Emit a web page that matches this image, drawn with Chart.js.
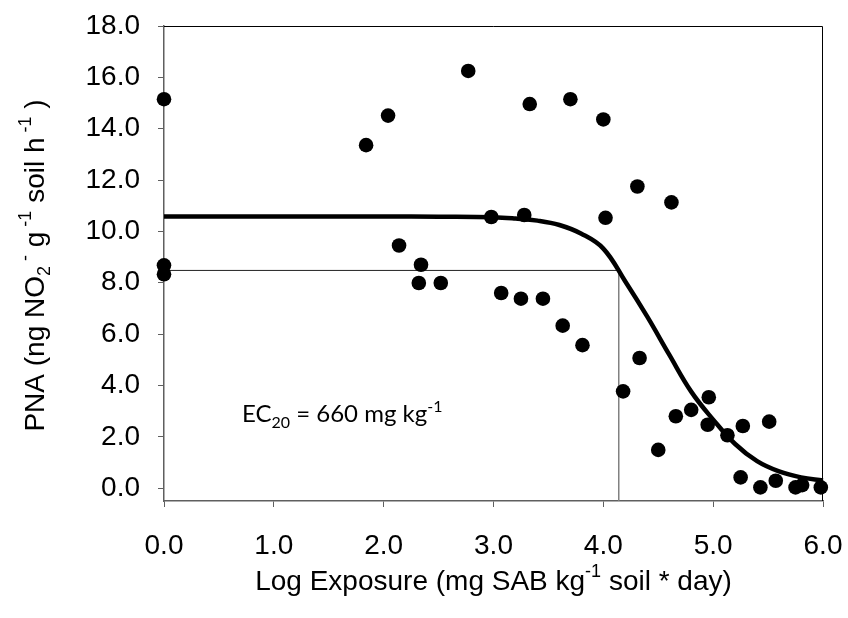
<!DOCTYPE html>
<html>
<head>
<meta charset="utf-8">
<script src="https://cdn.jsdelivr.net/npm/chart.js@4.4.1/dist/chart.umd.min.js"></script>
<style>
  html, body { margin: 0; padding: 0; background: #fff; }
  #wrap { width: 848px; height: 618px; position: relative; }
</style>
</head>
<body>
<div id="wrap"><canvas id="pnaChart"></canvas></div>
<script>
const exposure = [0.0, 0.0, 0.0, 1.84, 2.04, 2.14, 2.34, 2.32, 2.52, 2.77,
  2.98, 3.07, 3.25, 3.28, 3.33, 3.45, 3.63, 3.70, 3.81, 4.00,
  4.02, 4.18, 4.31, 4.33, 4.50, 4.62, 4.66, 4.80, 4.96, 4.95,
  5.13, 5.27, 5.51, 5.25, 5.43, 5.57, 5.75, 5.81, 5.98];
const pna = [15.15, 8.68, 8.33, 13.36, 14.51, 9.45, 8.70, 7.99, 7.99, 16.25,
  10.56, 7.60, 7.38, 10.64, 14.96, 7.38, 6.33, 15.15, 5.57, 14.36,
  10.53, 3.77, 11.75, 5.07, 1.49, 11.13, 2.80, 3.05, 3.54, 2.47,
  2.06, 2.42, 2.59, 0.42, 0.03, 0.29, 0.03, 0.12, 0.03];

// Fitted dose-response curve
const curveExposure = [0.0, 0.5, 1.0, 1.5, 2.0, 2.5, 3.0, 3.2, 3.4, 3.6,
  3.8, 4.0, 4.2, 4.4, 4.6, 4.8, 5.0, 5.2, 5.4, 5.6, 5.8, 6.0];
const curvePna = [10.58, 10.58, 10.58, 10.58, 10.58, 10.57, 10.55, 10.5, 10.42, 10.25,
  9.91, 9.33, 8.05, 6.68, 5.2, 3.76, 2.67, 1.72, 1.05, 0.65, 0.42, 0.3];

// EC20 guide lines
const ec20Exposure = 4.14;
const ec20Pna = 8.48;

const xTicks = [0, 1, 2, 3, 4, 5, 6];
const yTicks = [0, 2, 4, 6, 8, 10, 12, 14, 16, 18];
const yMin = -0.5;

const AXIS_FONT = "'Liberation Sans', Arial, sans-serif";
const NOTE_FONT = "Lato, 'Open Sans', sans-serif";
const axisGray = "#5f5f5f";

// draw text with super/subscripts; parts = [text, shift] (1 sup, -1 sub)
function drawRich(ctx, parts, x, y, size, family, align) {
  const small = Math.round(size * 0.66);
  let total = 0;
  const widths = parts.map(([t, s]) => {
    ctx.font = `${s ? small : size}px ${family}`;
    const w = ctx.measureText(t).width;
    total += w;
    return w;
  });
  let cx = align === "left" ? x : x - total / 2;
  ctx.textAlign = "left";
  ctx.textBaseline = "alphabetic";
  parts.forEach(([t, s], i) => {
    ctx.font = `${s ? small : size}px ${family}`;
    const dy = s > 0 ? -size * 0.45 : s < 0 ? size * 0.22 : 0;
    ctx.fillText(t, cx, y + dy);
    cx += widths[i];
  });
}

const decorPlugin = {
  id: "decor",
  afterDraw(chart) {
    const { ctx, chartArea: a, scales } = chart;
    ctx.save();
    // top and right frame
    ctx.strokeStyle = "#000";
    ctx.lineWidth = 1;
    ctx.beginPath();
    ctx.moveTo(a.left, a.top + 0.5);
    ctx.lineTo(a.right - 0.5, a.top + 0.5);
    ctx.lineTo(a.right - 0.5, a.bottom);
    ctx.stroke();

    ctx.fillStyle = "#000";
    // y axis title
    ctx.save();
    ctx.translate(44, (a.top + a.bottom) / 2 + 2);
    ctx.rotate(-Math.PI / 2);
    drawRich(ctx, [["PNA (ng NO", 0], ["2", -1], [" -", 1], [" g", 0], [" -1", 1],
      [" soil h", 0], [" -1", 1], [" )", 0]], 0, 0, 28, AXIS_FONT, "center");
    ctx.restore();

    // x axis title
    drawRich(ctx, [["Log Exposure (mg SAB kg", 0], ["-1", 1], [" soil * day)", 0]],
      (a.left + a.right) / 2, 590, 28, AXIS_FONT, "center");

    // EC20 note
    drawRich(ctx, [["EC", 0], ["20", -1], [" = 660 mg kg", 0], ["-1", 1]],
      scales.x.getPixelForValue(0.71), scales.y.getPixelForValue(2.56), 24, NOTE_FONT, "left");
    ctx.restore();
  }
};

const points = exposure.map((x, i) => ({ x, y: pna[i] }));
const curve = curveExposure.map((x, i) => ({ x, y: curvePna[i] }));

new Chart(document.getElementById("pnaChart"), {
  type: "scatter",
  data: {
    datasets: [
      {
        label: "PNA",
        data: points,
        pointRadius: 7.3,
        pointHoverRadius: 7.3,
        backgroundColor: "#000",
        borderColor: "#000",
        borderWidth: 0,
        clip: false,
        order: 1
      },
      {
        label: "Fit",
        data: curve,
        showLine: true,
        pointRadius: 0,
        borderColor: "#000",
        borderWidth: 4.5,
        tension: 0.4,
        clip: false,
        order: 2
      },
      {
        label: "EC20 level",
        data: [{ x: 0, y: ec20Pna }, { x: ec20Exposure, y: ec20Pna }],
        showLine: true,
        pointRadius: 0,
        borderColor: "#222",
        borderWidth: 1,
        order: 3
      },
      {
        label: "EC20 exposure",
        data: [{ x: ec20Exposure, y: ec20Pna }, { x: ec20Exposure, y: yMin }],
        showLine: true,
        pointRadius: 0,
        borderColor: "#808080",
        borderWidth: 1,
        order: 3
      }
    ]
  },
  options: {
    responsive: true,
    maintainAspectRatio: false,
    animation: false,
    layout: { padding: { top: 26, right: 25 } },
    plugins: {
      legend: { display: false },
      tooltip: { enabled: false }
    },
    scales: {
      x: {
        type: "linear",
        min: 0,
        max: 6,
        afterBuildTicks: (s) => { s.ticks = xTicks.map((v) => ({ value: v })); },
        afterFit: (s) => { s.height = 117; s.paddingLeft = 0; s.paddingRight = 0; },
        ticks: {
          callback: (v) => v.toFixed(1),
          color: "#000",
          font: { family: AXIS_FONT, size: 28 },
          padding: 22,
          maxRotation: 0
        },
        grid: { drawOnChartArea: false, tickLength: 6, color: axisGray },
        border: { color: axisGray, width: 1.5 }
      },
      y: {
        type: "linear",
        min: yMin,
        max: 18,
        afterBuildTicks: (s) => { s.ticks = yTicks.map((v) => ({ value: v })); },
        afterFit: (s) => { s.width = 164; s.paddingTop = 0; s.paddingBottom = 0; },
        ticks: {
          callback: (v) => v.toFixed(1),
          color: "#000",
          font: { family: AXIS_FONT, size: 28 },
          padding: 18
        },
        grid: { drawOnChartArea: false, tickLength: 6, color: axisGray },
        border: { color: axisGray, width: 1.5 }
      }
    }
  },
  plugins: [decorPlugin]
});
</script>
</body>
</html>
